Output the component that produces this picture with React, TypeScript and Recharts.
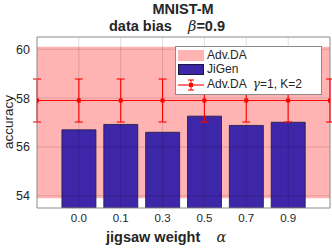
import React from 'react';
import {
  ComposedChart,
  Bar,
  Line,
  XAxis,
  YAxis,
  ErrorBar,
  ReferenceArea,
  ReferenceLine,
} from 'recharts';

const categories = ['0.0', '0.1', '0.3', '0.5', '0.7', '0.9'];
const jigenAccuracy = [56.7, 56.92, 56.6, 57.26, 56.88, 57.01];
const advDaPositions = [-1, 0, 1, 2, 3, 4, 5, 6];
const advDaMean = [57.9, 57.9, 57.9, 57.9, 57.9, 57.9, 57.9, 57.9];
const advDaError = [0.88, 0.88, 0.88, 0.88, 0.88, 0.88, 0.88, 0.88];
const advDaBand = [53.9, 60.1];
const yTicks = [54, 56, 58, 60];
const yDomain = [53.5, 60.5];
const xDomain = [-1, 6];

const data = advDaPositions.map((p, i) => ({
  x: p,
  jigen: p >= 0 && p < categories.length ? jigenAccuracy[p] : null,
  adv: advDaMean[i],
  err: advDaError[i],
}));

const FONT = '"Liberation Sans", Arial, Helvetica, sans-serif';
const PINK = '#FFB3B3';
const BLUE = '#3E26A8';
const RED = '#FF0000';
const GRID = 'rgba(0,0,0,0.13)';
const AXIS = '#8a8a8a';

const RedDot = (props: any) => {
  const { cx, cy } = props;
  if (cx == null || cy == null) return null;
  return <rect x={cx - 2} y={cy - 2} width={4} height={4} fill={RED} />;
};

export default function App() {
  return (
    <div
      style={{
        position: 'absolute',
        left: 0,
        top: 0,
        width: 332,
        height: 248,
        background: '#fff',
        fontFamily: FONT,
        color: '#262626',
      }}
    >
      <ComposedChart
        width={332}
        height={248}
        data={data}
        margin={{ top: 37, right: 2, bottom: 0, left: 0 }}
      >
        <XAxis
          dataKey="x"
          type="number"
          domain={xDomain}
          ticks={[0, 1, 2, 3, 4, 5]}
          tickFormatter={(v: number) => categories[v] ?? ''}
          allowDataOverflow
          height={40}
          tickLine={false}
          tickSize={0}
          tickMargin={6}
          axisLine={{ stroke: AXIS }}
          tick={{ fill: '#262626', fontSize: 11.5, fontFamily: FONT }}
        />
        <YAxis
          type="number"
          domain={yDomain}
          ticks={yTicks}
          allowDataOverflow
          width={37}
          tickLine={false}
          tickSize={0}
          tickMargin={7}
          axisLine={{ stroke: AXIS }}
          tick={{ fill: '#262626', fontSize: 12.5, fontFamily: FONT }}
        />
        <ReferenceArea
          y1={advDaBand[0]}
          y2={advDaBand[1]}
          x1={xDomain[0]}
          x2={xDomain[1]}
          fill={PINK}
          fillOpacity={1}
          stroke="none"
        />
        <Bar
          dataKey="jigen"
          barSize={34}
          fill={BLUE}
          stroke="#1a1a3a"
          strokeWidth={0.8}
          isAnimationActive={false}
        />
        {yTicks.map((t) => (
          <ReferenceLine key={'gy' + t} y={t} stroke={GRID} />
        ))}
        {[0, 1, 2, 3, 4, 5].map((t) => (
          <ReferenceLine key={'gx' + t} x={t} stroke={GRID} />
        ))}
        <ReferenceLine y={yDomain[1]} stroke={AXIS} />
        <ReferenceLine x={xDomain[1]} stroke={AXIS} />
        <Line
          dataKey="adv"
          stroke={RED}
          strokeWidth={1.1}
          dot={<RedDot />}
          activeDot={false}
          isAnimationActive={false}
        >
          <ErrorBar dataKey="err" width={4} stroke={RED} strokeWidth={1.1} direction="y" />
        </Line>
      </ComposedChart>

      {/* Title */}
      <div
        style={{
          position: 'absolute',
          left: 0,
          width: 366,
          top: 1,
          textAlign: 'center',
          fontWeight: 'bold',
          fontSize: 14.5,
          lineHeight: '16px',
        }}
      >
        MNIST-M
      </div>
      <div
        style={{
          position: 'absolute',
          left: 109,
          top: 18,
          fontWeight: 'bold',
          fontSize: 14.5,
          lineHeight: '16px',
          whiteSpace: 'pre',
        }}
      >
        data bias{'    '}
        <span style={{ fontStyle: 'italic', fontFamily: '"DejaVu Serif", serif', fontWeight: 'normal' }}>β</span>
        =0.9
      </div>

      {/* Y label */}
      <div
        style={{
          position: 'absolute',
          left: 8,
          top: 122,
          transform: 'translate(-50%, -50%) rotate(-90deg)',
          fontSize: 13.5,
          whiteSpace: 'nowrap',
        }}
      >
        accuracy
      </div>

      {/* X label */}
      <div
        style={{
          position: 'absolute',
          left: 106,
          top: 229,
          fontWeight: 'bold',
          fontSize: 14.5,
          lineHeight: '16px',
          whiteSpace: 'pre',
        }}
      >
        jigsaw weight{'    '}
        <span style={{ fontStyle: 'italic', fontFamily: '"DejaVu Serif", serif', fontWeight: 'normal' }}>α</span>
      </div>

      {/* Legend */}
      <div
        style={{
          position: 'absolute',
          left: 175,
          top: 46,
          width: 145,
          height: 47,
          background: '#fff',
          border: '1px solid #8a8a8a',
          fontSize: 12,
          lineHeight: '15px',
        }}
      >
        <div style={{ position: 'absolute', left: 2, top: 3, width: 26, height: 11, background: PINK }} />
        <div style={{ position: 'absolute', left: 31, top: 1 }}>Adv.DA</div>
        <div style={{ position: 'absolute', left: 2, top: 17, width: 26, height: 11, background: BLUE, boxSizing: 'border-box', border: '1px solid #1a1a3a' }} />
        <div style={{ position: 'absolute', left: 31, top: 15 }}>JiGen</div>
        <svg style={{ position: 'absolute', left: 0, top: 30 }} width={30} height={16}>
          <line x1={2} y1={8} x2={28} y2={8} stroke={RED} strokeWidth={1.1} />
          <line x1={15} y1={3} x2={15} y2={13} stroke={RED} strokeWidth={1.1} />
          <line x1={12} y1={3} x2={18} y2={3} stroke={RED} strokeWidth={1.1} />
          <line x1={12} y1={13} x2={18} y2={13} stroke={RED} strokeWidth={1.1} />
          <rect x={13} y={6} width={4} height={4} fill={RED} />
        </svg>
        <div style={{ position: 'absolute', left: 31, top: 30, whiteSpace: 'pre' }}>
          Adv.DA{'  '}
          <span style={{ fontStyle: 'italic', fontFamily: '"DejaVu Serif", serif' }}>γ</span>=1, K=2
        </div>
      </div>
    </div>
  );
}
